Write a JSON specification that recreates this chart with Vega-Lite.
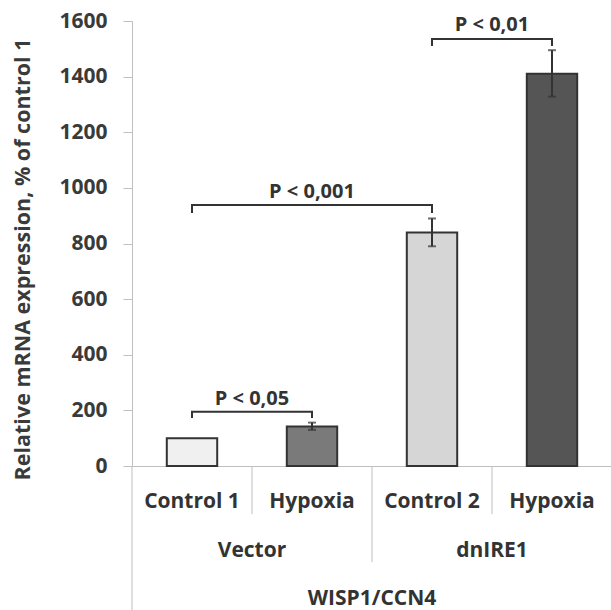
{
  "$schema": "https://vega.github.io/schema/vega-lite/v6.json",
  "padding": {"left": 12, "top": 10, "right": 0, "bottom": 0},
  "background": "white",
  "config": {
    "font": "Open Sans",
    "view": {"stroke": null},
    "concat": {"spacing": 0}
  },
  "datasets": {
    "bars": [
      {"id": "Vector Control 1", "condition": "Control 1", "group": "Vector", "value": 100},
      {"id": "Vector Hypoxia", "condition": "Hypoxia", "group": "Vector", "value": 142},
      {"id": "dnIRE1 Control 2", "condition": "Control 2", "group": "dnIRE1", "value": 840},
      {"id": "dnIRE1 Hypoxia", "condition": "Hypoxia", "group": "dnIRE1", "value": 1410}
    ],
    "errors": [
      {"id": "Vector Hypoxia", "lo": 130, "hi": 156},
      {"id": "dnIRE1 Control 2", "lo": 790, "hi": 890},
      {"id": "dnIRE1 Hypoxia", "lo": 1328, "hi": 1495}
    ],
    "bracketPath": [
      {"b": "a", "x": "Vector Control 1", "y": 173, "o": 1},
      {"b": "a", "x": "Vector Control 1", "y": 195, "o": 2},
      {"b": "a", "x": "Vector Hypoxia", "y": 195, "o": 3},
      {"b": "a", "x": "Vector Hypoxia", "y": 173, "o": 4},
      {"b": "b", "x": "Vector Control 1", "y": 910, "o": 1},
      {"b": "b", "x": "Vector Control 1", "y": 938, "o": 2},
      {"b": "b", "x": "dnIRE1 Control 2", "y": 938, "o": 3},
      {"b": "b", "x": "dnIRE1 Control 2", "y": 910, "o": 4},
      {"b": "c", "x": "dnIRE1 Control 2", "y": 1510, "o": 1},
      {"b": "c", "x": "dnIRE1 Control 2", "y": 1535, "o": 2},
      {"b": "c", "x": "dnIRE1 Hypoxia", "y": 1535, "o": 3},
      {"b": "c", "x": "dnIRE1 Hypoxia", "y": 1510, "o": 4}
    ],
    "pvalues": [
      {"label": "P < 0,05", "at": "Vector Control 1", "y": 241, "place": "edge"},
      {"label": "P < 0,001", "at": "Vector Hypoxia", "y": 985, "place": "center"},
      {"label": "P < 0,01", "at": "dnIRE1 Control 2", "y": 1585, "place": "edge"}
    ],
    "tiers": [
      {"label": "Control 1", "anchor": "Vector Control 1", "tier": 1, "place": "center"},
      {"label": "Hypoxia", "anchor": "Vector Hypoxia", "tier": 1, "place": "center"},
      {"label": "Control 2", "anchor": "dnIRE1 Control 2", "tier": 1, "place": "center"},
      {"label": "Hypoxia", "anchor": "dnIRE1 Hypoxia", "tier": 1, "place": "center"},
      {"label": "Vector", "anchor": "Vector Control 1", "tier": 2, "place": "edge"},
      {"label": "dnIRE1", "anchor": "dnIRE1 Control 2", "tier": 2, "place": "edge"},
      {"label": "WISP1/CCN4", "anchor": "Vector Hypoxia", "tier": 3, "place": "edge"}
    ],
    "separators": [
      {"anchor": "Vector Control 1", "fromTier": 0, "depth": 3},
      {"anchor": "Vector Hypoxia", "fromTier": 0, "depth": 1},
      {"anchor": "dnIRE1 Control 2", "fromTier": 0, "depth": 2},
      {"anchor": "dnIRE1 Hypoxia", "fromTier": 0, "depth": 1}
    ]
  },
  "vconcat": [
    {
      "width": 480,
      "height": 445,
      "layer": [
        {
          "data": {"name": "bars"},
          "mark": {"type": "bar", "width": {"band": 0.42}, "stroke": "#333333", "strokeWidth": 2},
          "encoding": {
            "x": {
              "field": "id", "type": "nominal", "sort": null,
              "scale": {"domain": ["Vector Control 1", "Vector Hypoxia", "dnIRE1 Control 2", "dnIRE1 Hypoxia"], "paddingInner": 0, "paddingOuter": 0},
              "axis": {"labels": false, "ticks": false, "title": null, "domainColor": "#bfbfbf", "domainWidth": 1}
            },
            "y": {
              "field": "value", "type": "quantitative",
              "scale": {"domain": [0, 1600], "nice": false},
              "axis": {
                "values": [0, 200, 400, 600, 800, 1000, 1200, 1400, 1600],
                "format": "d",
                "grid": false, "tickSize": 9, "tickColor": "#bfbfbf", "domainColor": "#bfbfbf",
                "labelFontSize": 21, "labelFontWeight": "bold", "labelColor": "#3a3a3a", "labelPadding": 16,
                "title": "Relative mRNA expression, % of control 1",
                "titleFontSize": 21.5, "titleFontWeight": "bold", "titleColor": "#3a3a3a", "titlePadding": 24,
                "titleY": 238
              }
            },
            "fill": {
              "field": "id", "type": "nominal", "legend": null,
              "scale": {"domain": ["Vector Control 1", "Vector Hypoxia", "dnIRE1 Control 2", "dnIRE1 Hypoxia"], "range": ["#f0f0f0", "#7a7a7a", "#d6d6d6", "#555555"]}
            }
          }
        },
        {
          "data": {"name": "errors"},
          "mark": {"type": "rule", "color": "#333333", "strokeWidth": 2},
          "encoding": {
            "x": {"field": "id", "type": "nominal"},
            "y": {"field": "lo", "type": "quantitative"},
            "y2": {"field": "hi"}
          }
        },
        {
          "data": {"name": "errors"},
          "mark": {"type": "tick", "color": "#333333", "thickness": 2, "size": 8},
          "encoding": {
            "x": {"field": "id", "type": "nominal"},
            "y": {"field": "hi", "type": "quantitative"}
          }
        },
        {
          "data": {"name": "errors"},
          "mark": {"type": "tick", "color": "#333333", "thickness": 2, "size": 8},
          "encoding": {
            "x": {"field": "id", "type": "nominal"},
            "y": {"field": "lo", "type": "quantitative"}
          }
        },
        {
          "data": {"name": "bracketPath"},
          "mark": {"type": "line", "color": "#333333", "strokeWidth": 2, "strokeJoin": "miter"},
          "encoding": {
            "x": {"field": "x", "type": "nominal"},
            "y": {"field": "y", "type": "quantitative"},
            "detail": {"field": "b", "type": "nominal"},
            "order": {"field": "o", "type": "quantitative"}
          }
        },
        {
          "data": {"name": "pvalues"},
          "transform": [{"filter": "datum.place === 'edge'"}],
          "mark": {"type": "text", "color": "#333333", "fontSize": 20, "fontWeight": "bold", "baseline": "middle", "align": "center"},
          "encoding": {
            "x": {"field": "at", "type": "nominal", "bandPosition": 1},
            "y": {"field": "y", "type": "quantitative"},
            "text": {"field": "label"}
          }
        },
        {
          "data": {"name": "pvalues"},
          "transform": [{"filter": "datum.place === 'center'"}],
          "mark": {"type": "text", "color": "#333333", "fontSize": 20, "fontWeight": "bold", "baseline": "middle", "align": "center"},
          "encoding": {
            "x": {"field": "at", "type": "nominal", "bandPosition": 0.5},
            "y": {"field": "y", "type": "quantitative"},
            "text": {"field": "label"}
          }
        }
      ]
    },
    {
      "width": 480,
      "height": 144,
      "layer": [
        {
          "data": {"name": "separators"},
          "mark": {"type": "rule", "color": "#bfbfbf", "strokeWidth": 1},
          "encoding": {
            "x": {
              "field": "anchor", "type": "nominal", "bandPosition": 0,
              "scale": {"domain": ["Vector Control 1", "Vector Hypoxia", "dnIRE1 Control 2", "dnIRE1 Hypoxia"], "paddingInner": 0, "paddingOuter": 0},
              "axis": null
            },
            "y": {"field": "fromTier", "type": "quantitative", "scale": {"domain": [0, 3], "reverse": true, "nice": false}, "axis": null},
            "y2": {"field": "depth"}
          }
        },
        {
          "data": {"name": "tiers"},
          "transform": [{"filter": "datum.place === 'center'"}],
          "mark": {"type": "text", "color": "#333333", "fontSize": 21, "fontWeight": "bold", "baseline": "alphabetic", "align": "center", "dy": -6},
          "encoding": {
            "x": {"field": "anchor", "type": "nominal", "bandPosition": 0.5},
            "y": {"field": "tier", "type": "quantitative"},
            "text": {"field": "label"}
          }
        },
        {
          "data": {"name": "tiers"},
          "transform": [{"filter": "datum.place === 'edge'"}],
          "mark": {"type": "text", "color": "#333333", "fontSize": 21, "fontWeight": "bold", "baseline": "alphabetic", "align": "center", "dy": -5},
          "encoding": {
            "x": {"field": "anchor", "type": "nominal", "bandPosition": 1},
            "y": {"field": "tier", "type": "quantitative"},
            "text": {"field": "label"}
          }
        }
      ]
    }
  ],
  "resolve": {"scale": {"x": "independent", "y": "independent"}},
  "bounds": "flush"
}
